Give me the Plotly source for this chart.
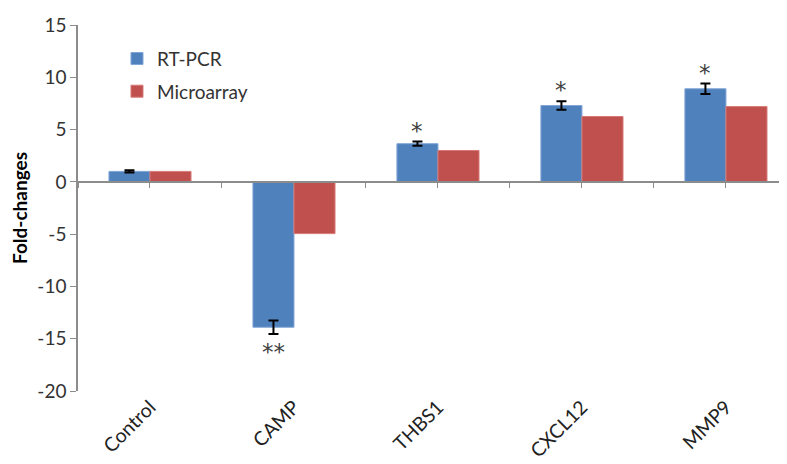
import plotly.graph_objects as go

categories = ["Control", "CAMP", "THBS1", "CXCL12", "MMP9"]
rt_pcr = [1.0, -13.9, 3.65, 7.3, 8.9]
rt_pcr_err = [0.1, 0.65, 0.2, 0.4, 0.5]
microarray = [1.0, -4.95, 3.0, 6.25, 7.2]
stars = ["", "**", "*", "*", "*"]
y_ticks = [-20, -15, -10, -5, 0, 5, 10, 15]
y_tick_text = ["-20", "-15", "-10", "-5", "0", "5", "10", "15"]

BLUE = "#4F81BD"
RED = "#C0504D"
AXIS = "#8C8C8C"
FONT = "Lato, Open Sans, sans-serif"

xs = list(range(len(categories)))
bargap = 0.43
yr = [-20, 15]
xr = [-0.5, 4.424]

fig = go.Figure()
fig.add_trace(go.Bar(
    x=xs, y=rt_pcr, name="RT-PCR", legendgroup="a",
    marker=dict(color=BLUE, line=dict(color="#7FA5D6", width=1)),
    error_y=dict(type="data", array=rt_pcr_err, color="black", thickness=2, width=5),
))
fig.add_trace(go.Bar(
    x=xs, y=microarray, name="Microarray", legendgroup="b",
    marker=dict(color=RED, line=dict(color="#D77A77", width=1)),
))
# dummy trace to hold the zero-line axis
fig.add_trace(go.Scatter(x=[None], y=[None], xaxis="x2", showlegend=False, hoverinfo="skip"))

off = (1 - bargap) / 4
for i, s in enumerate(stars):
    if not s:
        continue
    v = rt_pcr[i]
    e = rt_pcr_err[i]
    if v >= 0:
        fig.add_annotation(x=i - off, y=v + e, text=s, showarrow=False, yanchor="middle",
                           yshift=11, font=dict(size=23, color="#404040", family="DejaVu Sans"))
    else:
        fig.add_annotation(x=i - off, y=v - e, text=s, showarrow=False, yanchor="middle",
                           yshift=-18, font=dict(size=23, color="#404040", family="DejaVu Sans"))

zero_pos = (0 - yr[0]) / (yr[1] - yr[0])
minor_ticks = [x / 2 for x in range(-1, 10)]

fig.update_layout(
    width=779, height=456,
    margin=dict(l=70, r=0, t=17, b=73),
    paper_bgcolor="white", plot_bgcolor="white",
    barmode="group", bargap=bargap, bargroupgap=0,
    font=dict(family=FONT, color="#333333"),
    legend=dict(x=0.055, y=0.96, xanchor="left", yanchor="top",
                font=dict(size=19, color="#333333", family=FONT),
                tracegroupgap=5, traceorder="grouped", bgcolor="rgba(0,0,0,0)"),
    xaxis=dict(range=xr, tickvals=xs, ticktext=categories, tickangle=-45,
               showline=False, zeroline=False, showgrid=False, ticks="", automargin=False,
               tickfont=dict(size=19.5, color="#222222", family=FONT)),
    xaxis2=dict(range=xr, overlaying="x", anchor="free", position=zero_pos,
                showticklabels=False, showline=True, linecolor=AXIS, linewidth=1.5,
                ticks="outside", ticklen=5, tickcolor=AXIS, tickvals=minor_ticks,
                zeroline=False, showgrid=False, automargin=False),
    yaxis=dict(range=yr, tickvals=y_ticks, ticktext=y_tick_text, showline=True,
               linecolor=AXIS, linewidth=1.5, automargin=False,
               ticks="outside", ticklen=6, tickcolor=AXIS, zeroline=False, showgrid=False,
               tickfont=dict(size=19, color="#333333", family=FONT),
               title=dict(text="<b>Fold-changes</b>", standoff=10,
                          font=dict(size=19, color="black", family=FONT))),
)

fig.write_html("out.html")
